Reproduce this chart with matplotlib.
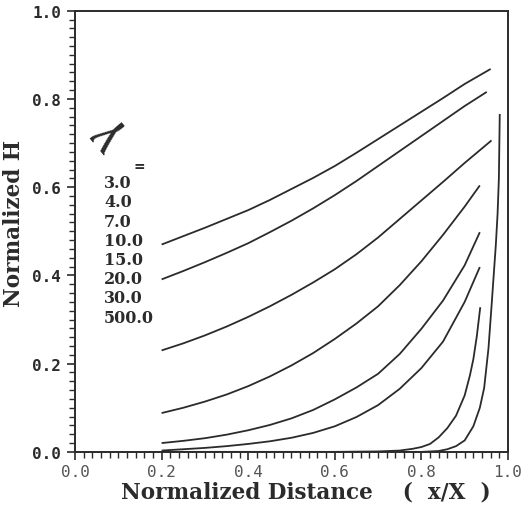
import matplotlib
matplotlib.use("Agg")
import matplotlib.pyplot as plt
from matplotlib.ticker import MultipleLocator, FormatStrFormatter

# ---- data ----
gamma_labels = ["3.0", "4.0", "7.0", "10.0", "15.0", "20.0", "30.0", "500.0"]

x_g3 = [0.2, 0.25, 0.3, 0.35, 0.4, 0.45, 0.5, 0.55, 0.6, 0.65, 0.7, 0.75, 0.8, 0.85, 0.9, 0.96]
h_g3 = [0.470, 0.489, 0.508, 0.528, 0.548, 0.571, 0.596, 0.621, 0.648, 0.678, 0.709, 0.740, 0.771, 0.802, 0.834, 0.868]

x_g4 = [0.2, 0.25, 0.3, 0.35, 0.4, 0.45, 0.5, 0.55, 0.6, 0.65, 0.7, 0.75, 0.8, 0.85, 0.9, 0.951]
h_g4 = [0.391, 0.410, 0.430, 0.451, 0.473, 0.498, 0.524, 0.552, 0.582, 0.614, 0.648, 0.682, 0.716, 0.750, 0.784, 0.816]

x_g7 = [0.2, 0.25, 0.3, 0.35, 0.4, 0.45, 0.5, 0.55, 0.6, 0.65, 0.7, 0.75, 0.8, 0.85, 0.9, 0.962]
h_g7 = [0.230, 0.246, 0.264, 0.284, 0.306, 0.330, 0.356, 0.384, 0.414, 0.448, 0.486, 0.528, 0.570, 0.612, 0.655, 0.706]

x_g10 = [0.2, 0.25, 0.3, 0.35, 0.4, 0.45, 0.5, 0.55, 0.6, 0.65, 0.7, 0.75, 0.8, 0.85, 0.9, 0.935]
h_g10 = [0.088, 0.100, 0.114, 0.130, 0.149, 0.171, 0.196, 0.224, 0.256, 0.291, 0.330, 0.378, 0.432, 0.492, 0.556, 0.604]

x_g15 = [0.2, 0.25, 0.3, 0.35, 0.4, 0.45, 0.5, 0.55, 0.6, 0.65, 0.7, 0.75, 0.8, 0.85, 0.9, 0.935]
h_g15 = [0.020, 0.025, 0.031, 0.039, 0.049, 0.061, 0.076, 0.095, 0.119, 0.146, 0.177, 0.222, 0.279, 0.343, 0.423, 0.498]

x_g20 = [0.2, 0.25, 0.3, 0.35, 0.4, 0.45, 0.5, 0.55, 0.6, 0.65, 0.7, 0.75, 0.8, 0.85, 0.9, 0.935]
h_g20 = [0.003, 0.006, 0.009, 0.013, 0.018, 0.024, 0.032, 0.043, 0.058, 0.079, 0.106, 0.143, 0.190, 0.250, 0.340, 0.419]

x_g30 = [0.2, 0.6, 0.7, 0.75, 0.78, 0.8, 0.82, 0.84, 0.86, 0.88, 0.9, 0.912, 0.92, 0.928, 0.936]
h_g30 = [0.0, 0.0, 0.001, 0.003, 0.007, 0.011, 0.018, 0.033, 0.054, 0.082, 0.128, 0.173, 0.210, 0.262, 0.328]

x_g500 = [0.2, 0.8, 0.84, 0.86, 0.88, 0.9, 0.92, 0.935, 0.945, 0.955, 0.962, 0.967, 0.972, 0.976, 0.979, 0.981]
h_g500 = [0.0, 0.0, 0.002, 0.006, 0.013, 0.026, 0.058, 0.100, 0.145, 0.235, 0.330, 0.400, 0.470, 0.540, 0.620, 0.766]

curves_x = [x_g3, x_g4, x_g7, x_g10, x_g15, x_g20, x_g30, x_g500]
curves_h = [h_g3, h_g4, h_g7, h_g10, h_g15, h_g20, h_g30, h_g500]

# ---- figure ----
fig = plt.figure(figsize=(5.21, 5.10), dpi=100)
ax = fig.add_axes([0.144, 0.112, 0.831, 0.865])

ink = "#2b2b2b"
for xs, hs in zip(curves_x, curves_h):
    ax.plot(xs, hs, color=ink, lw=1.3, solid_joinstyle="round",
            solid_capstyle="butt")

ax.set_xlim(0, 1)
ax.set_ylim(0, 1)

for s in ax.spines.values():
    s.set_linewidth(1.4)
    s.set_color(ink)

ax.xaxis.set_major_locator(MultipleLocator(0.2))
ax.xaxis.set_minor_locator(MultipleLocator(0.02))
ax.yaxis.set_major_locator(MultipleLocator(0.2))
ax.yaxis.set_minor_locator(MultipleLocator(0.02))
ax.xaxis.set_major_formatter(FormatStrFormatter("%.1f"))
ax.yaxis.set_major_formatter(FormatStrFormatter("%.1f"))

ax.tick_params(which="major", direction="out", length=6, width=1.2, color=ink,
               top=False, right=False)
ax.tick_params(which="minor", direction="out", length=4, width=1.0, color=ink,
               top=False, right=False)
ax.tick_params(axis="y", which="major", pad=4)
ax.tick_params(axis="x", which="major", pad=3)

for lab in ax.get_yticklabels():
    lab.set_fontfamily("DejaVu Sans Mono")
    lab.set_fontweight("bold")
    lab.set_fontsize(11.5)
    lab.set_color(ink)
for lab in ax.get_xticklabels():
    lab.set_fontfamily("DejaVu Sans Mono")
    lab.set_fontsize(11.5)
    lab.set_color("#555555")

ax.set_xlabel("Normalized Distance    (  x/X  )", family="DejaVu Serif",
              fontweight="bold", fontsize=15.5, color=ink, labelpad=1,
              x=0.533)
ax.set_ylabel("Normalized H", family="DejaVu Serif", fontweight="bold",
              fontsize=15.5, color=ink, labelpad=5, y=0.52)

# legend block (gamma = values)
ax.text(0.072, 0.712, "γ", family="Liberation Serif", fontsize=38,
        rotation=130, ha="center", va="center", color=ink)
ax.text(0.148, 0.648, "=", family="DejaVu Serif", fontweight="bold",
        fontsize=10, ha="center", va="center", color=ink)
y0 = 0.610
for i, lab in enumerate(gamma_labels):
    ax.text(0.067, y0 - i * 0.0435, lab, family="DejaVu Serif",
            fontweight="bold", fontsize=11.5, ha="left", va="center",
            color=ink)

fig.savefig("out.png", dpi=100)
